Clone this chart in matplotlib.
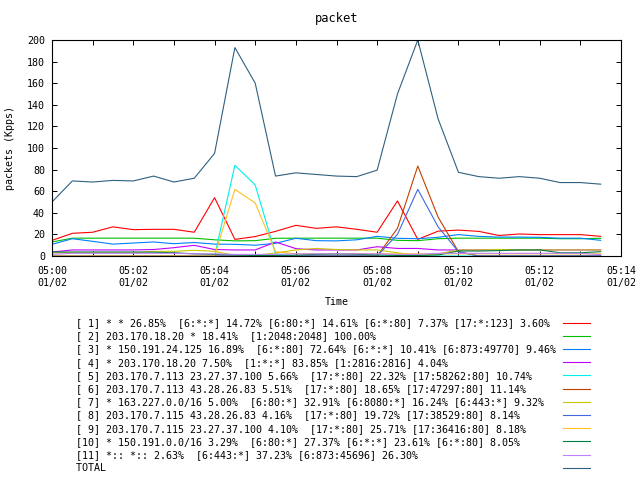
import matplotlib
matplotlib.use('Agg')
import matplotlib.pyplot as plt
import matplotlib.dates as mdates
import pandas as pd

plt.rcParams['font.family'] = ['DejaVu Sans Mono']
plt.rcParams['font.size'] = 7.2

# time axis: samples every 30 s from 05:00 on 01/02
times = pd.date_range('2000-01-02 05:00:00', periods=28, freq='30s')

labels = [
    "[ 1] * * 26.85%  [6:*:*] 14.72% [6:80:*] 14.61% [6:*:80] 7.37% [17:*:123] 3.60%",
    "[ 2] 203.170.18.20 * 18.41%  [1:2048:2048] 100.00%",
    "[ 3] * 150.191.24.125 16.89%  [6:*:80] 72.64% [6:*:*] 10.41% [6:873:49770] 9.46%",
    "[ 4] * 203.170.18.20 7.50%  [1:*:*] 83.85% [1:2816:2816] 4.04%",
    "[ 5] 203.170.7.113 23.27.37.100 5.66%  [17:*:80] 22.32% [17:58262:80] 10.74%",
    "[ 6] 203.170.7.113 43.28.26.83 5.51%  [17:*:80] 18.65% [17:47297:80] 11.14%",
    "[ 7] * 163.227.0.0/16 5.00%  [6:80:*] 32.91% [6:8080:*] 16.24% [6:443:*] 9.32%",
    "[ 8] 203.170.7.115 43.28.26.83 4.16%  [17:*:80] 19.72% [17:38529:80] 8.14%",
    "[ 9] 203.170.7.115 23.27.37.100 4.10%  [17:*:80] 25.71% [17:36416:80] 8.18%",
    "[10] * 150.191.0.0/16 3.29%  [6:80:*] 27.37% [6:*:*] 23.61% [6:*:80] 8.05%",
    "[11] *:: *:: 2.63%  [6:443:*] 37.23% [6:873:45696] 26.30%",
    "TOTAL",
]

colors = ['#ff0000', '#00c000', '#0080ff', '#c000ff', '#00eeee', '#c04000',
          '#c8c800', '#4169e1', '#ffc020', '#008040', '#c080ff', '#306080']

s1 = [14.5, 21, 22, 27, 24.4, 24.7, 24.7, 22, 54, 15.4, 18, 22.8, 28.4, 25.6,
      27, 24.7, 22, 51, 15.4, 23, 24, 22.8, 19, 20.4, 19.8, 19.8, 19.8, 18.2]
s2 = [13, 16.5, 16.5, 16.5, 16.5, 16.5, 16.5, 16.5, 15, 14, 14.2, 16.4, 16.5, 16.5,
      16.5, 16.5, 16.5, 14.5, 14.2, 16, 16.5, 16.5, 16.5, 16.5, 16.5, 16, 16, 16.4]
s3 = [10.8, 16, 13.6, 11, 12, 13, 11.4, 12.5, 11, 10.8, 10, 11.7, 16.4, 14.2,
      14, 15, 18.2, 16.4, 16, 17.3, 19.8, 18.2, 17.5, 17.5, 17.3, 16.5, 16.5, 14.5]
s4 = [3.7, 5.6, 5.6, 5.6, 5.6, 6, 7.7, 9.9, 6, 5.6, 5.6, 13, 6.8, 5.6,
      5.6, 5.6, 8.6, 7, 7, 5.6, 5.6, 5.6, 5.6, 5.6, 5.6, 5.6, 5.6, 5.6]
s5 = [0, 0, 0, 0, 0, 0, 0, 0, 0, 84, 65.7, 2, 0, 0,
      0, 0, 0, 0, 0, 0, 0, 0, 0, 0, 0, 0, 0, 0]
s6 = [0, 0, 0, 0, 0, 0, 0, 0, 0, 0, 0, 0, 0, 0,
      0, 0, 0, 25.6, 83.3, 36, 4, 0, 0, 0, 0, 0, 0, 0]
s7 = [3, 3, 3, 3, 3, 4.3, 4.3, 5.3, 4.3, 0.6, 0.5, 2.8, 5.6, 7,
      6, 5.6, 5.6, 3, 0.5, 2, 5.6, 5.6, 6, 5.6, 5.6, 5.6, 5.6, 5.6]
s8 = [0, 0, 0, 0, 0, 0, 0, 0, 0, 0, 0, 0, 0, 0,
      0, 0, 0, 20, 61.7, 27, 4, 0, 0, 0, 0, 0, 0, 0]
s9 = [0, 0, 0, 0, 0, 0, 0, 0, 0, 61.7, 49, 4, 2, 2,
      2, 2, 2, 2, 2, 2, 2, 2, 2, 2, 2, 2, 2, 2]
s10 = [3.7, 3.7, 3.7, 3.7, 3.7, 3.5, 3, 2, 1.5, 1, 0.5, 0.5, 0.8, 1.5,
       1.9, 1.5, 1, 0.5, 0.5, 1, 4.6, 4.6, 5, 5.6, 5.6, 3, 3, 4]
s11 = [1.5, 2.5, 2.5, 2.5, 2.5, 2.5, 2.5, 2, 2, 1.5, 1.5, 1.5, 2, 2,
       2, 2, 2, 1.5, 1.5, 2.5, 2.5, 2.5, 2.5, 2.5, 2.5, 2.5, 2.5, 1.3]
total = [50, 69.5, 68.5, 70, 69.5, 74, 68.5, 72, 95, 193, 160, 74, 77, 75.5,
         74, 73.5, 79.5, 150, 200, 127, 77.5, 73.5, 72, 73.5, 72, 68, 68, 66.5]

series = [s1, s2, s3, s4, s5, s6, s7, s8, s9, s10, s11, total]

fig = plt.figure(figsize=(6.4, 4.8), dpi=100)
ax = fig.add_axes([52 / 640, 1 - 256 / 480, 569 / 640, 216 / 480])

width = max(len(l) for l in labels)
handles = []
for vals, col, lab in zip(series, colors, labels):
    h, = ax.plot(times, vals, color=col, lw=0.8, label=lab.ljust(width))
    handles.append(h)

ax.set_xlim(pd.Timestamp('2000-01-02 05:00'), pd.Timestamp('2000-01-02 05:14'))
ax.set_ylim(0, 200)
ax.set_yticks(range(0, 201, 20))
ax.xaxis.set_major_locator(mdates.MinuteLocator(byminute=range(0, 60, 2)))
ax.xaxis.set_minor_locator(mdates.MinuteLocator())
ax.xaxis.set_major_formatter(mdates.DateFormatter('%H:%M\n%m/%d'))
for lbl in ax.get_xticklabels():
    lbl.set_linespacing(1.3)

ax.tick_params(which='both', direction='in', top=True, right=True,
               length=3.6, width=0.7)
ax.tick_params(axis='x', which='major', pad=7)
ax.tick_params(axis='y', pad=5)
for sp in ax.spines.values():
    sp.set_linewidth(0.8)

ax.set_title('packet', y=(256 - 19) / 216, va='center', pad=0)
ax.set_ylabel('packets (Kpps)')
ax.yaxis.set_label_coords((15 - 52) / 569, 0.5)
ax.set_xlabel('Time')
ax.xaxis.set_label_coords(0.5, (256 - 297) / 216)

fig.legend(handles=handles, loc='upper left',
           bbox_to_anchor=(76 / 640, 1 - 318 / 480),
           frameon=False, markerfirst=False, borderpad=0, borderaxespad=0,
           handlelength=2.7, handletextpad=0.7, labelspacing=0.32)

fig.savefig('out.png', dpi=100)
